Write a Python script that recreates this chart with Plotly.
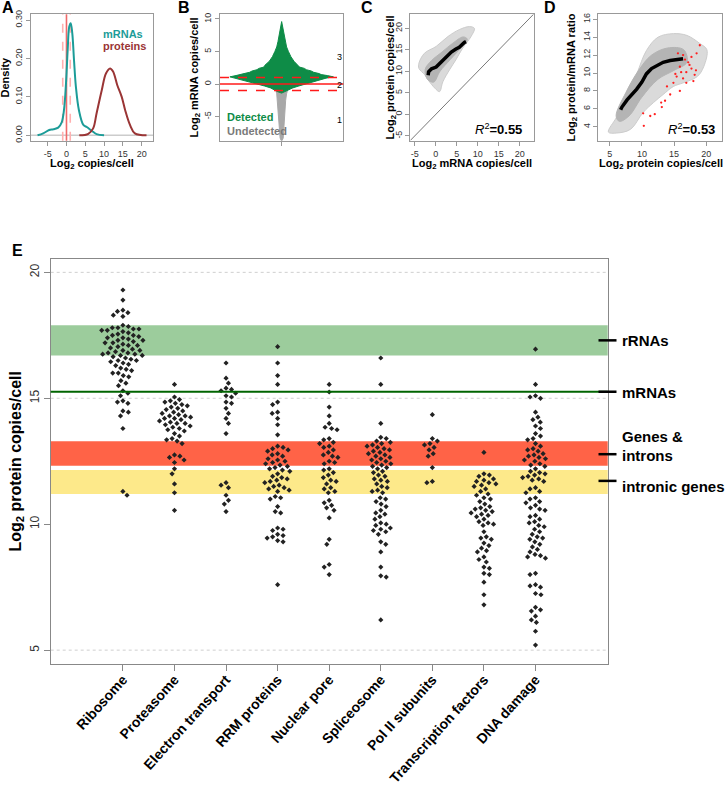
import numpy as np
import plotly.graph_objects as go

W, H = 726, 785
def fx(px): return px / W
def fy(py): return 1 - py / H

FONT = "Liberation Sans, Arial, sans-serif"

# ---------------- DATA ----------------
# Panel A: density curves
mrna_x = [-7.7, -6.2, -4.6, -3.5, -2.2, -1.3, -0.66, -0.13, 0.32, 0.74, 1.12, 1.54, 2.0, 2.5, 3.3, 4.5, 5.5, 6.7, 8.0, 10.0]
mrna_d = [0.0, 0.005, 0.014, 0.016, 0.02, 0.033, 0.066, 0.135, 0.222, 0.283, 0.292, 0.266, 0.196, 0.127, 0.066, 0.027, 0.021, 0.012, 0.003, 0.0]
prot_x = [3.4, 5.8, 7.1, 8.0, 9.4, 10.5, 11.6, 12.4, 13.5, 14.7, 15.6, 16.9, 18.2, 21.3]
prot_d = [0.0, 0.004, 0.018, 0.057, 0.118, 0.161, 0.174, 0.166, 0.131, 0.10, 0.066, 0.027, 0.005, 0.0]

# Panel B: profile of detected / undetected mRNA swarm (level, half-width)
b_green_y = [9.6, 8.5, 7.5, 6.5, 5.7, 5.0, 4.2, 3.5, 2.9, 2.6, 2.4, 2.2, 2.0, 1.8, 1.6, 1.45, 1.3, 1.1, 0.9, 0.75, 0.6, 0.45, 0.3, 0.15, 0.0, -0.3, -0.6, -0.9, -1.2, -1.4]
b_green_w = [0.0, 0.025, 0.04, 0.06, 0.08, 0.11, 0.15, 0.2, 0.27, 0.29, 0.37, 0.40, 0.48, 0.52, 0.61, 0.64, 0.74, 0.84, 0.72, 0.66, 0.60, 0.55, 0.50, 0.46, 0.40, 0.28, 0.18, 0.11, 0.06, 0.0]
b_grey_y = [-0.8, -1.5, -2.5, -3.5, -4.5, -5.5, -6.5, -7.5, -8.3, -8.7]
b_grey_w = [0.10, 0.08, 0.065, 0.057, 0.05, 0.05, 0.04, 0.032, 0.025, 0.008]

# Panel C: mRNA vs protein cloud envelope and running median
c_out_x = [-4.0, -2.7, 0.1, 2.9, 5.6, 8.0, 9.2, 8.4, 6.4, 4.8, 3.3, 1.7, 0.9, -0.2, -1.8, -2.6, -4.0]
c_out_y = [11.9, 14.2, 15.8, 18.1, 19.7, 20.4, 20.0, 18.1, 15.4, 12.7, 10.4, 7.6, 5.3, 6.1, 8.0, 9.2, 10.7]
c_in_x = [-2.5, -1.0, 1.5, 4.0, 6.5, 7.5, 6.0, 3.5, 1.0, -0.5, -2.0]
c_in_y = [10.5, 12.5, 14.5, 16.5, 18.0, 17.5, 15.5, 12.8, 10.0, 7.5, 8.2]
c_med_x = [-1.8, -1.7, -1.0, 0.1, 1.3, 2.5, 3.7, 4.8, 5.6, 6.8, 7.2]
c_med_y = [9.1, 9.9, 10.6, 11.0, 12.2, 13.3, 14.5, 15.2, 15.6, 16.7, 16.9]

# Panel D: protein vs protein/mRNA ratio
d_out_x = [4.8, 6.1, 7.6, 9.2, 10.7, 12.5, 14.9, 17.0, 19.0, 20.1, 19.6, 18.6, 16.4, 14.9, 13.3, 11.8, 10.2, 8.2, 6.1]
d_out_y = [3.4, 5.1, 7.3, 9.9, 12.5, 14.0, 14.4, 14.2, 13.3, 12.6, 10.7, 9.6, 8.9, 8.5, 7.6, 6.7, 5.6, 3.7, 3.3]
d_in_x = [6.0, 7.5, 9.5, 11.5, 14.0, 16.5, 17.0, 15.0, 12.5, 10.0, 8.0, 6.5]
d_in_y = [5.2, 7.8, 10.3, 12.0, 12.8, 12.6, 11.2, 10.3, 9.3, 7.3, 5.2, 4.6]
d_med_x = [6.7, 6.9, 7.7, 8.4, 9.2, 10.0, 10.7, 11.5, 12.3, 13.3, 14.4, 15.4, 16.4]
d_med_y = [5.9, 6.2, 7.0, 7.5, 8.2, 9.0, 9.9, 10.5, 10.8, 11.2, 11.4, 11.5, 11.6]
d_red_x = [16.4, 17.2, 15.9, 16.9, 17.7, 15.4, 16.4, 14.9, 16.9, 13.9, 18.0, 15.9, 14.4, 13.6, 13.1, 19.0, 18.5, 12.0, 11.3, 10.2, 10.3, 17.7, 15.6, 18.2, 16.1, 13.0, 17.4, 16.7, 15.2, 18.4]
d_red_y = [12.0, 11.2, 10.7, 10.1, 10.5, 9.6, 9.4, 8.9, 8.9, 8.5, 9.1, 8.0, 7.6, 6.9, 6.2, 13.1, 12.2, 5.4, 5.2, 5.5, 4.1, 11.8, 12.2, 9.8, 10.1, 6.7, 10.9, 11.5, 9.9, 10.3]

# Panel E: protein copies per functional category
categories = ["Ribosome", "Proteasome", "Electron transport", "RRM proteins", "Nuclear pore",
              "Spliceosome", "Pol II subunits", "Transcription factors", "DNA damage"]
ribosome = [19.3, 18.9, 18.5, 18.45, 18.4, 18.3, 18.25, 17.9, 17.85, 17.8, 17.8, 17.75, 17.75, 17.7, 17.7,
            17.65, 17.6, 17.55, 17.5, 17.5, 17.45, 17.4, 17.4, 17.35, 17.3, 17.3, 17.25, 17.2, 17.2, 17.15,
            17.1, 17.1, 17.05, 17.0, 16.95, 16.9, 16.9, 16.85, 16.8, 16.8, 16.75, 16.75, 16.7, 16.7, 16.65,
            16.6, 16.55, 16.5, 16.5, 16.45, 16.4, 16.35, 16.3, 16.2, 16.15, 16.1, 16.0, 16.0, 15.9, 15.85,
            15.7, 15.6, 15.5, 15.3, 15.2, 15.1, 14.9, 14.85, 14.8, 14.5, 14.45, 14.3, 13.8, 11.3, 11.15]
proteasome = [15.55, 15.05, 14.95, 14.9, 14.85, 14.8, 14.75, 14.7, 14.65, 14.6, 14.55, 14.5, 14.45, 14.4,
              14.35, 14.3, 14.3, 14.25, 14.2, 14.2, 14.15, 14.1, 14.05, 14.0, 14.0, 13.95, 13.9, 13.85,
              13.8, 13.75, 13.7, 13.6, 13.5, 13.4, 13.35, 13.3, 13.2, 12.75, 12.7, 12.65, 12.55, 12.45,
              12.2, 12.0, 11.6, 11.25, 10.55]
electron_transport = [16.4, 15.8, 15.6, 15.4, 15.35, 15.3, 15.2, 15.1, 15.05, 14.85, 14.8, 14.6, 14.4,
                      14.2, 14.0, 13.6, 11.65, 11.55, 11.45, 11.15, 10.95, 10.8, 10.5]
rrm_proteins = [17.05, 16.4, 15.9, 15.55, 14.85, 14.75, 14.45, 14.4, 14.2, 13.95, 13.55, 13.1, 13.05, 13.0,
                12.95, 12.9, 12.8, 12.75, 12.7, 12.6, 12.55, 12.5, 12.45, 12.4, 12.35, 12.3, 12.25, 12.2,
                12.15, 12.1, 12.0, 11.9, 11.85, 11.8, 11.75, 11.7, 11.65, 11.55, 11.5, 11.45, 11.4, 11.35,
                11.3, 11.1, 11.05, 11.0, 10.7, 10.5, 10.45, 9.85, 9.8, 9.75, 9.6, 9.55, 9.5, 9.45, 9.35, 9.3, 7.6]
nuclear_pore = [15.55, 15.25, 14.65, 14.3, 14.0, 13.85, 13.8, 13.75, 13.4, 13.35, 13.25, 13.2, 13.1, 13.05,
                12.95, 12.85, 12.75, 12.7, 12.65, 12.5, 12.45, 12.4, 12.2, 12.15, 12.05, 11.95, 11.85, 11.75,
                11.7, 11.6, 11.45, 11.4, 11.3, 11.25, 10.95, 10.85, 10.75, 10.65, 10.55, 10.25, 9.4, 9.2,
                8.4, 8.3, 8.0]
spliceosome = [16.6, 15.55, 14.0, 13.45, 13.4, 13.3, 13.25, 13.2, 13.15, 13.1, 13.05, 13.0, 12.95, 12.9,
               12.85, 12.8, 12.75, 12.7, 12.65, 12.6, 12.55, 12.5, 12.45, 12.4, 12.35, 12.3, 12.25, 12.2,
               12.1, 12.05, 11.95, 11.9, 11.8, 11.75, 11.7, 11.6, 11.5, 11.45, 11.35, 11.3, 11.25, 11.05,
               11.0, 10.9, 10.8, 10.7, 10.55, 10.45, 10.4, 10.3, 10.2, 10.05, 10.0, 9.95, 9.85, 9.8, 9.75,
               9.7, 9.6, 9.3, 9.2, 8.9, 8.3, 7.95, 7.9, 6.2]
pol2_subunits = [14.35, 13.4, 13.3, 13.2, 13.15, 13.05, 12.95, 12.8, 12.7, 12.25, 11.7, 11.65]
transcription_factors = [12.85, 12.0, 11.95, 11.9, 11.8, 11.75, 11.7, 11.65, 11.6, 11.55, 11.5, 11.4, 11.3,
                         11.2, 11.15, 11.05, 11.0, 10.9, 10.8, 10.7, 10.65, 10.6, 10.55, 10.5, 10.45, 10.4,
                         10.35, 10.3, 10.2, 10.1, 10.05, 10.0, 9.95, 9.7, 9.5, 9.45, 9.4, 9.25, 9.15, 9.05,
                         8.95, 8.9, 8.7, 8.6, 8.5, 8.3, 8.25, 8.05, 8.0, 7.7, 7.2, 6.8]
dna_damage = [16.95, 15.55, 15.1, 15.05, 15.0, 14.45, 14.25, 14.15, 14.05, 13.9, 13.8, 13.6, 13.5, 13.4,
              13.35, 13.2, 13.1, 13.0, 12.95, 12.9, 12.8, 12.75, 12.7, 12.65, 12.6, 12.55, 12.5, 12.4, 12.35,
              12.3, 12.2, 12.1, 12.05, 12.0, 11.95, 11.9, 11.85, 11.8, 11.75, 11.7, 11.45, 11.4, 11.3, 11.25,
              11.05, 11.0, 10.9, 10.85, 10.75, 10.65, 10.6, 10.55, 10.35, 10.3, 10.2, 10.1, 10.05, 9.95, 9.9,
              9.8, 9.7, 9.6, 9.5, 9.45, 9.4, 9.3, 9.2, 9.1, 9.0, 8.9, 8.8, 8.75, 8.7, 8.65, 8.05, 8.0, 7.6,
              7.55, 7.5, 7.25, 7.2, 6.7, 6.6, 6.55, 6.35, 6.2, 6.1, 5.75, 5.2]
groups = [ribosome, proteasome, electron_transport, rrm_proteins, nuclear_pore,
          spliceosome, pol2_subunits, transcription_factors, dna_damage]

# reference RNA levels (bands)
rrna_band = [16.7, 17.9]
mrna_level = 15.26
genes_band = [12.32, 13.29]
intronic_band = [11.2, 12.15]
ref_labels = ["rRNAs", "mRNAs", "Genes &", "introns", "intronic genes"]
ref_label_levels = [17.3, 15.26, 12.78, 11.72]

# ---------------- LAYOUT GEOMETRY ----------------
boxes = {
    "A": (31, 14.3, 153.3, 140.7),
    "B": (220, 14.3, 343.3, 140.7),
    "C": (410.3, 14.3, 533.7, 140.7),
    "D": (598.3, 14.3, 721.7, 140.7),
    "E": (50.7, 259, 607.7, 664),
}

def dom(b):
    l, t, r, bt = b
    return [fx(l), fx(r)], [fy(bt), fy(t)]

fig = go.Figure()

# ---- Panel A ----
fig.add_trace(go.Scatter(x=mrna_x, y=mrna_d, mode="lines", line=dict(color="#1c9c98", width=2, shape="spline"),
                         xaxis="x", yaxis="y", showlegend=False))
fig.add_trace(go.Scatter(x=prot_x, y=prot_d, mode="lines", line=dict(color="#9a3535", width=2, shape="spline"),
                         xaxis="x", yaxis="y", showlegend=False))

# ---- Panel B ----
gy = list(b_grey_y) + list(b_grey_y[::-1])
gx = list(b_grey_w) + [-w for w in b_grey_w[::-1]]
fig.add_trace(go.Scatter(x=gx, y=gy, mode="lines", fill="toself", fillcolor="#a8a8a8",
                         line=dict(color="#a8a8a8", width=1), xaxis="x2", yaxis="y2", showlegend=False))
gy2 = list(b_green_y) + list(b_green_y[::-1])
gx2 = list(b_green_w) + [-w for w in b_green_w[::-1]]
fig.add_trace(go.Scatter(x=gx2, y=gy2, mode="lines", fill="toself", fillcolor="#0e8c47",
                         line=dict(color="#0e8c47", width=1), xaxis="x2", yaxis="y2", showlegend=False))

# ---- Panel C ----
fig.add_trace(go.Scatter(x=c_out_x + [c_out_x[0]], y=c_out_y + [c_out_y[0]], mode="lines", fill="toself",
                         fillcolor="#dadada", line=dict(color="#cccccc", width=1, shape="spline"),
                         xaxis="x3", yaxis="y3", showlegend=False))
fig.add_trace(go.Scatter(x=c_in_x + [c_in_x[0]], y=c_in_y + [c_in_y[0]], mode="lines", fill="toself",
                         fillcolor="#b4b4b4", line=dict(color="#b4b4b4", width=1, shape="spline"),
                         xaxis="x3", yaxis="y3", showlegend=False))
fig.add_trace(go.Scatter(x=[-6.05, 23.3], y=[-6.05, 23.3], mode="lines", line=dict(color="#555", width=0.8),
                         xaxis="x3", yaxis="y3", showlegend=False))
fig.add_trace(go.Scatter(x=c_med_x, y=c_med_y, mode="lines", line=dict(color="black", width=3.5),
                         xaxis="x3", yaxis="y3", showlegend=False))

# ---- Panel D ----
fig.add_trace(go.Scatter(x=d_out_x + [d_out_x[0]], y=d_out_y + [d_out_y[0]], mode="lines", fill="toself",
                         fillcolor="#dadada", line=dict(color="#cccccc", width=1, shape="spline"),
                         xaxis="x4", yaxis="y4", showlegend=False))
fig.add_trace(go.Scatter(x=d_in_x + [d_in_x[0]], y=d_in_y + [d_in_y[0]], mode="lines", fill="toself",
                         fillcolor="#b4b4b4", line=dict(color="#b4b4b4", width=1, shape="spline"),
                         xaxis="x4", yaxis="y4", showlegend=False))
fig.add_trace(go.Scatter(x=d_red_x, y=d_red_y, mode="markers", marker=dict(color="#ff2020", size=2.3),
                         xaxis="x4", yaxis="y4", showlegend=False))
fig.add_trace(go.Scatter(x=d_med_x, y=d_med_y, mode="lines", line=dict(color="black", width=3.5),
                         xaxis="x4", yaxis="y4", showlegend=False))

# ---- Panel E: beeswarm ----
KY = 25.3   # px per y unit
KX = 51.6   # px per category
def beeswarm(vals, s):
    ys = np.array(vals, dtype=float) * KY
    order = np.argsort(-ys, kind="stable")
    placed = []
    out = np.zeros(len(vals))
    for n, i in enumerate(order):
        y = ys[i]
        near = [(py, px) for (py, px) in placed if abs(py - y) < s]
        cands = [0.0]
        for py, px in near:
            dx = np.sqrt(s * s - (py - y) ** 2)
            cands += [px + dx, px - dx]
        sign = 1 if n % 2 == 0 else -1
        cands.sort(key=lambda c: (round(abs(c), 6), -sign * c))
        chosen = 0.0
        for c in cands:
            if all((c - px) ** 2 + (y - py) ** 2 >= s * s - 1e-6 for (py, px) in near):
                chosen = c
                break
        placed.append((y, chosen))
        out[i] = chosen / KX
    return out

for k, vals in enumerate(groups):
    off = beeswarm(vals, 5.6)
    fig.add_trace(go.Scatter(x=(k + 1) + off, y=vals, mode="markers",
                             marker=dict(symbol="diamond", size=4, color="#222"),
                             xaxis="x5", yaxis="y5", showlegend=False))

# ---------------- AXES ----------------
def ax_common(size=9):
    return dict(showline=True, mirror=True, linecolor="#999", linewidth=1, ticks="outside", ticklen=4,
                tickcolor="#999", tickfont=dict(size=size, color="#333", family=FONT), showgrid=False,
                zeroline=False, automargin=False, fixedrange=True)

xd, yd = dom(boxes["A"])
fig.update_layout(
    xaxis=dict(domain=xd, anchor="y", range=[-9.44, 23.1], tickvals=[-5, 0, 5, 10, 15, 20],
               ticktext=["-5", "0", "5", "10", "15", "20"], **ax_common()),
    yaxis=dict(domain=yd, anchor="x", range=[-0.014, 0.315], tickvals=[0, 0.1, 0.2, 0.3],
               ticktext=["0.00", "0.10", "0.20", "0.30"], tickangle=-90, **ax_common()),
)
xd, yd = dom(boxes["B"])
fig.update_layout(
    xaxis2=dict(domain=xd, anchor="y2", range=[-1, 1], tickvals=[0], showticklabels=False, **ax_common()),
    yaxis2=dict(domain=yd, anchor="x2", range=[-8.72, 10.72], tickvals=[-5, 0, 5, 10],
                ticktext=["-5", "0", "5", "10"], tickangle=-90, **ax_common()),
)
xd, yd = dom(boxes["C"])
fig.update_layout(
    xaxis3=dict(domain=xd, anchor="y3", range=[-6.05, 23.3], tickvals=[-5, 0, 5, 10, 15, 20],
                ticktext=["-5", "0", "5", "10", "15", "20"], **ax_common()),
    yaxis3=dict(domain=yd, anchor="x3", range=[-6.1, 23.26], tickvals=[-5, 0, 5, 10, 15, 20],
                ticktext=["-5", "0", "5", "10", "15", "20"], tickangle=-90, **ax_common()),
)
xd, yd = dom(boxes["D"])
fig.update_layout(
    xaxis4=dict(domain=xd, anchor="y4", range=[3.23, 22.4], tickvals=[5, 10, 15, 20], **ax_common()),
    yaxis4=dict(domain=yd, anchor="x4", range=[2.44, 16.56], tickvals=[4, 6, 8, 10, 12, 14, 16],
                tickangle=-90, **ax_common()),
)
xd, yd = dom(boxes["E"])
eax = ax_common(12)
eax.update(linecolor="#888", tickcolor="#888", ticklen=6)
ex = dict(eax)
ex["tickfont"] = dict(size=14, color="black", family=FONT, weight="bold")
fig.update_layout(
    xaxis5=dict(domain=xd, anchor="y5", range=[-0.4, 10.4], tickvals=list(range(1, 10)),
                ticktext=categories, tickangle=-48, ticklabelstandoff=-5, **ex),
    yaxis5=dict(domain=yd, anchor="x5", range=[4.45, 20.53], tickvals=[5, 10, 15, 20],
                tickangle=-90, **eax),
)

# ---------------- SHAPES ----------------
shapes = []
# Panel A reference lines
shapes.append(dict(type="line", xref="x domain", yref="y", x0=0, x1=1, y0=0, y1=0,
                   line=dict(color="#cccccc", width=1.5), layer="below"))
for v, dash, col in [(-1, "dash", "#ffb0b0"), (1, "dash", "#ffb0b0"), (0, "solid", "#f06a6a")]:
    shapes.append(dict(type="line", xref="x", yref="y domain", x0=v, x1=v, y0=0, y1=1,
                       line=dict(color=col, width=1.6, dash=dash), layer="below"))
# Panel B thresholds
for v, dash in [(1, "dash"), (0, "solid"), (-1, "dash")]:
    shapes.append(dict(type="line", xref="x2 domain", yref="y2", x0=0, x1=1, y0=v, y1=v,
                       line=dict(color="#ff1a1a", width=1.6, dash=dash)))
# Panel E grid lines
for v in [5, 15, 20]:
    shapes.append(dict(type="line", xref="x5 domain", yref="y5", x0=0, x1=1, y0=v, y1=v,
                       line=dict(color="#cfcfcf", width=1, dash="dot"), layer="below"))
# Panel E bands
for (lo, hi), col in [(rrna_band, "#9ccc9c"), (genes_band, "#ff6347"), (intronic_band, "#fde98a")]:
    shapes.append(dict(type="rect", xref="x5 domain", yref="y5", x0=0, x1=1, y0=lo, y1=hi,
                       fillcolor=col, line=dict(width=0), layer="below"))
shapes.append(dict(type="line", xref="x5 domain", yref="y5", x0=0, x1=1, y0=mrna_level, y1=mrna_level,
                   line=dict(color="#006400", width=2.2)))
# label ticks right of panel E
for lv in ref_label_levels:
    shapes.append(dict(type="line", xref="paper", yref="y5", x0=fx(598.5), x1=fx(616.5), y0=lv, y1=lv,
                       line=dict(color="black", width=2.5)))

# ---------------- ANNOTATIONS ----------------
ann = []
def text(px, py, t, size=11, color="black", xanchor="center", yanchor="middle", angle=0):
    ann.append(dict(x=fx(px), y=fy(py), xref="paper", yref="paper", text=t, showarrow=False,
                    xanchor=xanchor, yanchor=yanchor, textangle=angle,
                    font=dict(size=size, color=color, family=FONT)))

for lab, (px, py) in zip(["A", "B", "C", "D"], [(7.5, 8), (184, 8), (366.5, 8), (549.5, 8)]):
    text(px, py, f"<b>{lab}</b>", size=16)
text(17, 251, "<b>E</b>", size=16)

# axis titles top row
text(5, 77.5, "<b>Density</b>", angle=-90)
text(92, 163.5, "<b>Log<sub>2</sub> copies/cell</b>")
text(195, 77.5, "<b>Log<sub>2</sub> mRNA copies/cell</b>", angle=-90)
text(391, 77.5, "<b>Log<sub>2</sub> protein copies/cell</b>", angle=-90)
text(472, 163.5, "<b>Log<sub>2</sub> mRNA copies/cell</b>")
text(572, 77.5, "<b>Log<sub>2</sub> protein/mRNA ratio</b>", angle=-90)
text(661, 163.5, "<b>Log<sub>2</sub> protein copies/cell</b>")

# panel A legend text
text(101, 34, "<b>mRNAs</b>", color="#1c9c98", xanchor="left")
text(101, 45.7, "<b>proteins</b>", color="#9a3535", xanchor="left")
# panel B text
text(225, 117.5, "<b>Detected</b>", color="#0e8c47", xanchor="left")
text(225, 131, "<b>Undetected</b>", color="#7a7a7a", xanchor="left")
for t, py in [("3", 56.7), ("2", 85), ("1", 120)]:
    text(339.5, py, t, size=9)
# R^2
text(524, 129, "<i>R</i><sup>2</sup><b>=0.55</b>", size=13, xanchor="right")
text(717, 129, "<i>R</i><sup>2</sup><b>=0.53</b>", size=13, xanchor="right")

# panel E
text(16, 461.5, "<b>Log<sub>2</sub> protein copies/cell</b>", size=16, angle=-90)
for t, py in zip(ref_labels, [340, 392.3, 436.7, 455.7, 486]):
    text(619.5, py, f"<b>{t}</b>", size=15, xanchor="left")

fig.update_layout(
    width=W, height=H, autosize=False, template="none",
    margin=dict(l=0, r=0, t=0, b=0), paper_bgcolor="white", plot_bgcolor="white",
    font=dict(family=FONT), showlegend=False, shapes=shapes, annotations=ann,
)

fig.write_html("out.html", config={"displayModeBar": False},
               post_script="document.body.style.margin='0px';document.body.style.padding='0px';")
